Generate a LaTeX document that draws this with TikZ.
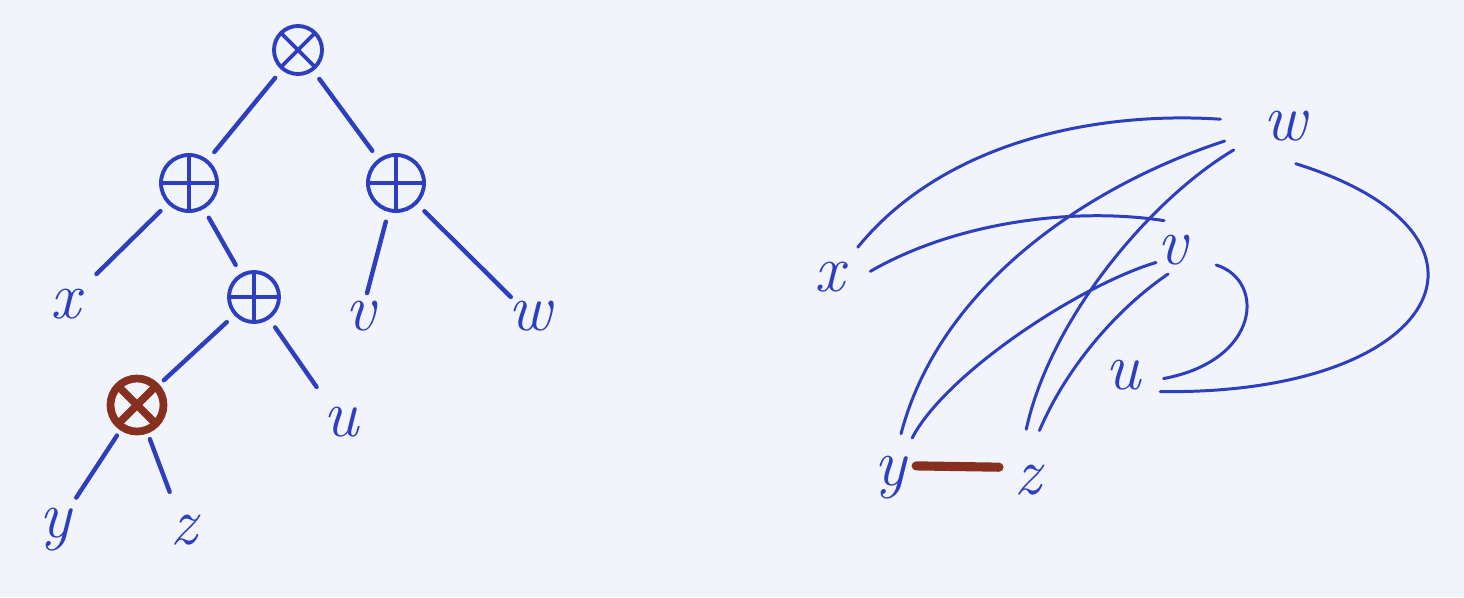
\documentclass[tikz,border=0pt]{standalone}
\usetikzlibrary{shapes.geometric}

\definecolor{inkblue}{RGB}{45,62,190}
\definecolor{inkbrown}{RGB}{135,48,32}
\definecolor{paper}{RGB}{242,244,251}

\tikzset{
  plusop/.style={circle, draw=inkblue, line width=1.1pt, inner sep=0pt, outer sep=0.12cm, minimum size=#1,
    path picture={\draw[inkblue, line width=1.1pt] (path picture bounding box.north) -- (path picture bounding box.south)
      (path picture bounding box.west) -- (path picture bounding box.east);}},
  plusop/.default=0.54cm,
  timesop/.style={circle, draw=inkblue, line width=1.1pt, inner sep=0pt, outer sep=0.12cm, minimum size=#1,
    path picture={\draw[inkblue, line width=1.1pt] (path picture bounding box.north west) -- (path picture bounding box.south east)
      (path picture bounding box.north east) -- (path picture bounding box.south west);}},
  timesop/.default=0.48cm,
  brownop/.style={circle, draw=inkbrown, line width=2.2pt, inner sep=0pt, outer sep=0.1cm, minimum size=0.53cm,
    path picture={\draw[inkbrown, line width=2.2pt] (path picture bounding box.north west) -- (path picture bounding box.south east)
      (path picture bounding box.north east) -- (path picture bounding box.south west);}},
  leaf/.style={circle, inner sep=0pt, minimum size=#1, text=inkblue, font=\fontsize{19}{22}\selectfont\itshape},
  leaf/.default=0.8cm,
  treeline/.style={inkblue, line width=1.25pt, line cap=round},
  arc/.style={inkblue, line width=0.85pt, line cap=round},
  clash/.style={inkbrown, line width=2.6pt, line cap=round}
}

\begin{document}
\begin{tikzpicture}[x=0.01cm, y=-0.01cm]
    \fill[paper] (0,0) rectangle (1464,597);
    \useasboundingbox (0,0) rectangle (1464,597);

    % expression tree
    \node[timesop] (root) at (298,50) {};
    \node[plusop=0.56cm] (lp) at (189,183) {};
    \node[plusop=0.56cm] (rp) at (396,183) {};
    \node[plusop=0.5cm] (mp) at (254,297) {};
    \node[brownop] (bm) at (137,405) {};
    % leaves
    \node[leaf=0.84cm] (x) at (66,304) {x};
    \node[leaf=0.46cm] (v) at (361,316) {v};
    \node[leaf=0.48cm] (w) at (530,316) {w};
    \node[leaf=0.84cm] (u) at (341,422) {u};
    \node[leaf=0.76cm] (y) at (55,530) {y};
    \node[leaf=0.8cm] (z) at (184,530) {z};

    \draw[treeline] (root) -- (lp);
    \draw[treeline] (root) -- (rp);
    \draw[treeline] (lp) -- (x);
    \draw[treeline] (lp) -- (mp);
    \draw[treeline] (rp) -- (v);
    \draw[treeline] (rp) -- (w);
    \draw[treeline] (mp) -- (bm);
    \draw[treeline] (mp) -- (u);
    \draw[treeline] (bm) -- (y);
    \draw[treeline] (bm) -- (z);

    % interference graph
    \node[leaf=0.8cm] (x2) at (830,277) {x};
    \node[leaf=0.75cm, ellipse, minimum width=1.3cm] (w2) at (1285,126) {w};
    \node[leaf=0.6cm] (v2) at (1173,250) {v};
    \node[leaf=0.8cm] (u2) at (1123,375) {u};
    \node[leaf=0.9cm] (y2) at (890,478) {y};
    \node[leaf=1cm] (z2) at (1028,480) {z};

    \draw[arc] (x2.47) .. controls +(88,-108) and +(-119,-8) .. (w2.174);
    \draw[arc] (x2.8) .. controls +(85,-49) and +(-91,-14) .. (v2.107);
    \draw[arc] (y2.76) .. controls +(39,-149) and +(-135,44) .. (w2.194);
    \draw[arc, shorten >=-0.1cm] (y2.61) .. controls +(33,-64) and +(-67,20) .. (v2.210);
    \draw[arc] (z2.92) .. controls +(24,-110) and +(-84,50) .. (w2.205);
    \draw[arc, shorten >=-0.08cm] (z2.77) .. controls +(26,-61) and +(-47,32) .. (v2.248);
    \draw[arc, shorten <=0.15cm] (v2.340) .. controls +(64,20) and +(97,-18) .. (u2.355);
    \draw[arc] (w2.286) .. controls +(230,72) and +(280,4) .. (u2.336);
    % the coalesced pair
    \draw[clash, shorten <=-0.18cm, shorten >=-0.2cm] (y2.15) -- (z2.165);

\end{tikzpicture}
\end{document}
